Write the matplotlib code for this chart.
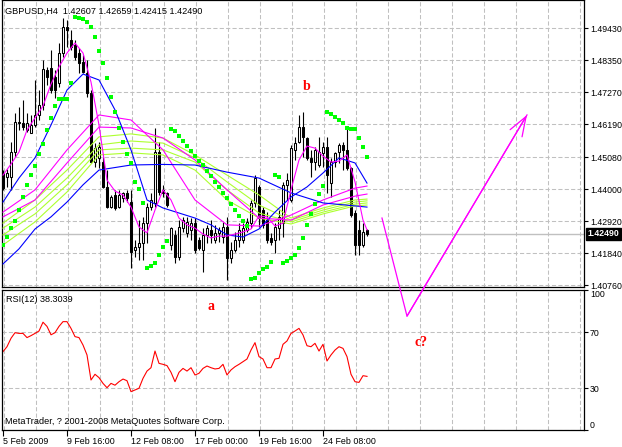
#!/usr/bin/env python3
"""GBPUSD H4 chart with MAs, parabolic SAR and RSI(12), MetaTrader style."""
import matplotlib
matplotlib.use("Agg")
import matplotlib.pyplot as plt
import numpy as np

W, H = 622, 447

# ---- candles (one bar every 4h, 5 Feb 2009 .. 25 Feb 2009) ----
opens = [1.4453, 1.4442, 1.4442, 1.4526, 1.4627, 1.4622, 1.4599, 1.4588, 1.4616, 1.4650,
         1.4683, 1.4802, 1.4807, 1.4779, 1.4757, 1.4858, 1.4948, 1.4903, 1.4886, 1.4858,
         1.4830, 1.4790, 1.4723, 1.4492, 1.4503, 1.4492, 1.4408, 1.4340, 1.4380, 1.4340,
         1.4368, 1.4385, 1.4357, 1.4194, 1.4205, 1.4217, 1.4284, 1.4340, 1.4352, 1.4526,
         1.4397, 1.4385, 1.4211, 1.4245, 1.4172, 1.4267, 1.4250, 1.4262, 1.4284, 1.4228,
         1.4194, 1.4245, 1.4262, 1.4228, 1.4250, 1.4239, 1.4273, 1.4166, 1.4194, 1.4228,
         1.4228, 1.4262, 1.4284, 1.4352, 1.4408, 1.4329, 1.4301, 1.4233, 1.4228, 1.4267,
         1.4284, 1.4413, 1.4363, 1.4532, 1.4560, 1.4610, 1.4571, 1.4503, 1.4492, 1.4481,
         1.4520, 1.4543, 1.4419, 1.4492, 1.4526, 1.4548, 1.4532, 1.4470, 1.4318, 1.4262,
         1.4211, 1.42607]
highs = [1.4464, 1.4466, 1.4560, 1.4655, 1.4678, 1.4700, 1.4655, 1.4650, 1.4768, 1.4734,
         1.4835, 1.4813, 1.4869, 1.4802, 1.4892, 1.4977, 1.4970, 1.4937, 1.4903, 1.4875,
         1.4852, 1.4835, 1.4734, 1.4554, 1.4560, 1.4509, 1.4464, 1.4380, 1.4397, 1.4397,
         1.4391, 1.4397, 1.4397, 1.4228, 1.4295, 1.4307, 1.4352, 1.4385, 1.4605, 1.4560,
         1.4413, 1.4391, 1.4273, 1.4262, 1.4295, 1.4307, 1.4307, 1.4301, 1.4301, 1.4239,
         1.4267, 1.4278, 1.4295, 1.4278, 1.4273, 1.4290, 1.4307, 1.4222, 1.4256, 1.4284,
         1.4284, 1.4301, 1.4363, 1.4447, 1.4413, 1.4340, 1.4323, 1.4250, 1.4284, 1.4329,
         1.4425, 1.4453, 1.4548, 1.4577, 1.4650, 1.4661, 1.4577, 1.4532, 1.4543, 1.4577,
         1.4560, 1.4577, 1.4503, 1.4526, 1.4554, 1.4560, 1.4605, 1.4475, 1.4329, 1.4295,
         1.4284, 1.42659]
lows = [1.4397, 1.4408, 1.4397, 1.4509, 1.4599, 1.4599, 1.4593, 1.4588, 1.4610, 1.4633,
        1.4667, 1.4751, 1.4723, 1.4706, 1.4745, 1.4847, 1.4880, 1.4869, 1.4835, 1.4790,
        1.4790, 1.4712, 1.4487, 1.4475, 1.4470, 1.4402, 1.4335, 1.4335, 1.4329, 1.4335,
        1.4357, 1.4357, 1.4132, 1.4172, 1.4160, 1.4160, 1.4217, 1.4329, 1.4340, 1.4380,
        1.4374, 1.4340, 1.4194, 1.4149, 1.4160, 1.4256, 1.4239, 1.4228, 1.4183, 1.4194,
        1.4121, 1.4217, 1.4217, 1.4217, 1.4222, 1.4217, 1.4093, 1.4149, 1.4188, 1.4205,
        1.4217, 1.4256, 1.4267, 1.4340, 1.4273, 1.4267, 1.4217, 1.4211, 1.4183, 1.4228,
        1.4239, 1.4363, 1.4357, 1.4498, 1.4554, 1.4509, 1.4498, 1.4442, 1.4464, 1.4475,
        1.4475, 1.4385, 1.4374, 1.4475, 1.4487, 1.4464, 1.4464, 1.4307, 1.4177, 1.4177,
        1.4205, 1.42415]
closes = [1.4402, 1.4453, 1.4526, 1.4627, 1.4622, 1.4610, 1.4622, 1.4616, 1.4650, 1.4683,
          1.4804, 1.4779, 1.4734, 1.4734, 1.4858, 1.4948, 1.4937, 1.4880, 1.4847, 1.4824,
          1.4796, 1.4723, 1.4492, 1.4537, 1.4543, 1.4408, 1.4340, 1.4374, 1.4335, 1.4380,
          1.4385, 1.4368, 1.4188, 1.4205, 1.4217, 1.4284, 1.4340, 1.4363, 1.4526, 1.4391,
          1.4385, 1.4346, 1.4267, 1.4172, 1.4273, 1.4295, 1.4290, 1.4284, 1.4194, 1.4200,
          1.4245, 1.4267, 1.4245, 1.4250, 1.4262, 1.4273, 1.4166, 1.4194, 1.4228, 1.4262,
          1.4267, 1.4290, 1.4352, 1.4436, 1.4301, 1.4278, 1.4228, 1.4222, 1.4273, 1.4307,
          1.4413, 1.4430, 1.4537, 1.4554, 1.4610, 1.4577, 1.4503, 1.4492, 1.4532, 1.4526,
          1.4543, 1.4447, 1.4492, 1.4520, 1.4548, 1.4532, 1.4470, 1.4312, 1.4211, 1.4211,
          1.4256, 1.42490]

# ---- parabolic SAR dots ----
sar = [1.4211, 1.4238, 1.4268, 1.4292, 1.4329, 1.4373, 1.4414, 1.4447, 1.4478, 1.4518,
       1.4552, 1.4599, 1.4640, 1.4680, 1.4704, 1.4704, 1.4704, 1.4758, 1.4981, 1.4977,
       1.4974, 1.4964, 1.4947, 1.4913, 1.4866, 1.4825, 1.4775, 1.4711, 1.4660, 1.4606,
       1.4559, 1.4518, 1.4488, 1.4424, 1.4400, 1.4353, 1.4133, 1.4140, 1.4150, 1.4177,
       1.4204, 1.4225, 1.4603, 1.4596, 1.4579, 1.4562, 1.4545, 1.4528, 1.4511, 1.4495,
       1.4481, 1.4461, 1.4444, 1.4424, 1.4407, 1.4387, 1.4370, 1.4349, 1.4329, 1.4309,
       1.4292, 1.4275, 1.4096, 1.4100, 1.4116, 1.4130, 1.4137, 1.4154, 1.4447, 1.4440,
       1.4150, 1.4157, 1.4167, 1.4177, 1.4201, 1.4235, 1.4279, 1.4316, 1.4349, 1.4383,
       1.4410, 1.4660, 1.4653, 1.4643, 1.4633, 1.4623, 1.4606, 1.4603, 1.4603, 1.4572,
       1.4542, 1.4508]

# ---- RSI(12) ----
rsi = [56, 59.5, 65.5, 69.5, 69, 69, 66, 67.4, 69, 70.7,
       77, 74, 68, 69.5, 74, 77.4, 77.4, 72.6, 66.7, 66,
       60.7, 53.6, 35.7, 39.8, 37.4, 33.3, 30.2, 33.3, 32, 34.5,
       36.4, 35.2, 27.4, 28.6, 29.8, 36.9, 42.1, 44.5, 56.4, 47.6,
       46.9, 46, 41.2, 34.5, 41.2, 44, 42.1, 44.5, 39.3, 40.5,
       44, 45.7, 44.5, 43.6, 44, 46.9, 39.3, 42.9, 45.2, 46.9,
       48.8, 50.7, 57.1, 62.4, 52.4, 50.7, 44.5, 44.5, 50.7, 51.2,
       61.2, 63.6, 69, 70.7, 72.6, 67.9, 60.2, 59.5, 61.9, 56.4,
       61.2, 49.3, 53.6, 57.1, 59.5, 58.3, 52.4, 39.8, 34.5, 34.0,
       38.8, 38.3039]

# ---- moving averages at sample bars ----
fast_bars = list(range(0, 92, 2)) + [91]
ma_fast = [1.4447, 1.4484, 1.4525, 1.4599, 1.4640, 1.4680, 1.4754, 1.4812, 1.4859, 1.4893,
           1.4859, 1.4761, 1.4616, 1.4430, 1.4393, 1.4380, 1.4339, 1.4272, 1.4252, 1.4329,
           1.4397, 1.4363, 1.4302, 1.4279, 1.4268, 1.4248, 1.4235, 1.4241, 1.4241, 1.4248,
           1.4255, 1.4265, 1.4309, 1.4306, 1.4275, 1.4285, 1.4397, 1.4498, 1.4545, 1.4538,
           1.4511, 1.4491, 1.4494, 1.4515, 1.4424, 1.4295, 1.4262]

blue_fast_bars = list(range(0, 92, 4)) + [91]
blue_fast = [1.4356, 1.4437, 1.4505, 1.4616, 1.4734, 1.4788, 1.4768, 1.4667, 1.4532, 1.4363,
             1.4336, 1.4319, 1.4302, 1.4279, 1.4245, 1.4238, 1.4265, 1.4322, 1.4373, 1.4407,
             1.4454, 1.4505, 1.4488, 1.4420]

blue_slow_bars = [0, 4, 8, 12, 16, 20, 24, 32, 40, 48, 56, 64, 72, 80, 88, 91]
blue_slow = [1.4147, 1.4198, 1.4265, 1.4306, 1.4356, 1.4414, 1.4464, 1.4481, 1.4483, 1.4481,
             1.4457, 1.4437, 1.4387, 1.4353, 1.4343, 1.4339]

slow_bars = [0, 8, 16, 24, 32, 40, 48, 56, 64, 72, 80, 88, 91]
magenta_a = [1.4322, 1.4397, 1.4532, 1.4650, 1.4633, 1.4532, 1.4363, 1.4279, 1.4275, 1.4312, 1.4363, 1.4403, 1.4410]
magenta_b = [1.4306, 1.4363, 1.4488, 1.4609, 1.4606, 1.4572, 1.4498, 1.4397, 1.4302, 1.4295, 1.4346, 1.4376, 1.4383]
green_1 = [1.4285, 1.4363, 1.4464, 1.4576, 1.4586, 1.4572, 1.4515, 1.4447, 1.4380, 1.4302, 1.4336, 1.4363, 1.4366]
green_2 = [1.4268, 1.4339, 1.4437, 1.4549, 1.4562, 1.4555, 1.4505, 1.4424, 1.4346, 1.4295, 1.4329, 1.4356, 1.4360]
green_3 = [1.4245, 1.4316, 1.4414, 1.4532, 1.4538, 1.4532, 1.4491, 1.4397, 1.4319, 1.4289, 1.4322, 1.4349, 1.4353]
green_4 = [1.4211, 1.4289, 1.4390, 1.4515, 1.4522, 1.4515, 1.4464, 1.4363, 1.4302, 1.4282, 1.4316, 1.4343, 1.4346]

# hand-drawn wave projection (bar, price)
wave_bars = [94.75, 101, 131]
wave_prices = [1.4302, 1.3971, 1.4650]

price_ticks = [1.4076, 1.4184, 1.4292, 1.4400, 1.4508, 1.4619, 1.4727, 1.4835, 1.4943]
price_labels = ["1.40760", "1.41840", "1.42920", "1.44000", "1.45080",
                "1.46190", "1.47270", "1.48350", "1.49430"]
rsi_ticks = [0, 30, 70, 100]
time_bars = [0, 16, 32, 48, 64, 80]
time_labels = ["5 Feb 2009", "9 Feb 16:00", "12 Feb 08:00", "17 Feb 00:00",
               "19 Feb 16:00", "24 Feb 08:00"]

GRID = "#C0C0C0"
FONT = 6.3


def px_box(x0, y0, x1, y1):
    return [x0 / W, 1 - y1 / H, (x1 - x0) / W, (y1 - y0) / H]


def style_axes(ax):
    for s in ax.spines.values():
        s.set_color("black")
        s.set_linewidth(0.9)
    ax.set_xlim(-0.25, 145.25)
    ax.set_xticks([0.25 + 8 * k for k in range(19)], minor=True)
    ax.grid(True, which="minor", axis="x", color=GRID, linestyle=(0, (3, 1.6)), lw=0.75)
    ax.grid(True, which="major", axis="y", color=GRID, linestyle=(0, (3, 1.6)), lw=0.75)
    ax.set_axisbelow(True)
    ax.yaxis.tick_right()
    ax.tick_params(axis="y", which="both", direction="out", length=3, width=0.8,
                   labelsize=FONT, pad=1.2)
    ax.tick_params(axis="x", which="minor", length=0)


def main():
    plt.rcParams["font.family"] = ["Liberation Sans", "DejaVu Sans"]
    plt.rcParams["lines.scale_dashes"] = False
    fig = plt.figure(figsize=(W / 100, H / 100), dpi=100)
    fig.patch.set_facecolor("white")

    ax = fig.add_axes(px_box(2, 0, 584, 287))
    ax_rsi = fig.add_axes(px_box(2, 290, 584, 430), sharex=ax)
    ax.set_zorder(3)
    style_axes(ax)
    style_axes(ax_rsi)

    x = np.arange(len(closes))
    o, h, l, c = map(np.array, (opens, highs, lows, closes))
    up = c >= o

    ax.axhline(c[-1], color=GRID, lw=1.0, zorder=1)
    ax.vlines(x, l, h, color="black", lw=0.8, zorder=2)
    ax.bar(x[up], np.maximum(c[up] - o[up], 0.00003), bottom=o[up], width=0.55,
           color="white", edgecolor="black", lw=0.75, zorder=3)
    ax.bar(x[~up], np.maximum(o[~up] - c[~up], 0.00003), bottom=c[~up], width=0.55,
           color="black", edgecolor="black", lw=0.75, zorder=3)

    lw = 0.8
    for vals in (green_4, green_3, green_2, green_1):
        ax.plot(slow_bars, vals, color="#ADFF2F", lw=lw, zorder=4)
    ax.plot(slow_bars, magenta_b, color="#FF00FF", lw=lw, zorder=4)
    ax.plot(slow_bars, magenta_a, color="#FF00FF", lw=lw, zorder=4)
    ax.plot(blue_slow_bars, blue_slow, color="#0000FF", lw=lw, zorder=4)
    ax.plot(blue_fast_bars, blue_fast, color="#0000FF", lw=lw, zorder=4)
    ax.plot(fast_bars, ma_fast, color="#FF00FF", lw=lw, zorder=4)
    ax.plot(x, sar, linestyle="none", marker="s", ms=2.6, color="#00FF00",
            markeredgewidth=0, zorder=5)

    # wave projection drawn by hand on the chart
    ax.plot(wave_bars, wave_prices, color="#FF00FF", lw=0.9, clip_on=False, zorder=6)
    ax.annotate("", xy=(wave_bars[-1], wave_prices[-1]),
                xytext=(wave_bars[-2], wave_prices[-2]),
                arrowprops=dict(arrowstyle="->,head_length=1.4,head_width=0.5",
                                color="#FF00FF", lw=0.9, mutation_scale=10,
                                shrinkA=0, shrinkB=0),
                annotation_clip=False, zorder=6)

    ax.set_ylim(1.40693, 1.50379)
    ax.set_yticks(price_ticks)
    ax.set_yticklabels(price_labels)
    ax.tick_params(axis="x", which="major", length=0, labelbottom=False)

    ax.text(1.006, c[-1], "1.42490", transform=ax.get_yaxis_transform(),
            ha="left", va="center", color="white", fontsize=FONT, fontweight="bold",
            bbox=dict(boxstyle="square,pad=0.18", facecolor="black", edgecolor="black"))

    # RSI
    ax_rsi.plot(x, rsi, color="#FF0000", lw=0.8)
    ax_rsi.set_ylim(0, 100)
    ax_rsi.set_yticks(rsi_ticks)
    ax_rsi.set_yticklabels([str(t) for t in rsi_ticks])
    labs = ax_rsi.get_yticklabels()
    labs[0].set_va("bottom")
    labs[-1].set_va("top")
    ax_rsi.set_xticks(time_bars)
    ax_rsi.set_xticklabels(time_labels, ha="left")
    ax_rsi.tick_params(axis="x", which="major", direction="out", length=4, width=0.8,
                       labelsize=6.4, pad=1)

    red_txt = dict(color="#FF0000", fontsize=10, fontweight="bold",
                   family=["Liberation Serif", "DejaVu Serif"], ha="center", va="center")
    fig.text(5 / W, 1 - 11 / H, "GBPUSD,H4  1.42607 1.42659 1.42415 1.42490",
             fontsize=6.6, va="center", ha="left")
    fig.text(6 / W, 1 - 300 / H, "RSI(12) 38.3039", fontsize=6.6, va="center", ha="left")
    fig.text(5 / W, 1 - 421 / H, "MetaTrader, ? 2001-2008 MetaQuotes Software Corp.",
             fontsize=6.6, va="center", ha="left")
    fig.text(307 / W, 1 - 86 / H, "b", **red_txt)
    fig.text(211 / W, 1 - 306 / H, "a", **red_txt)
    fig.text(421 / W, 1 - 343 / H, "c?", **red_txt)

    fig.savefig("out.png", dpi=100, facecolor="white")
    plt.close(fig)


if __name__ == "__main__":
    main()
